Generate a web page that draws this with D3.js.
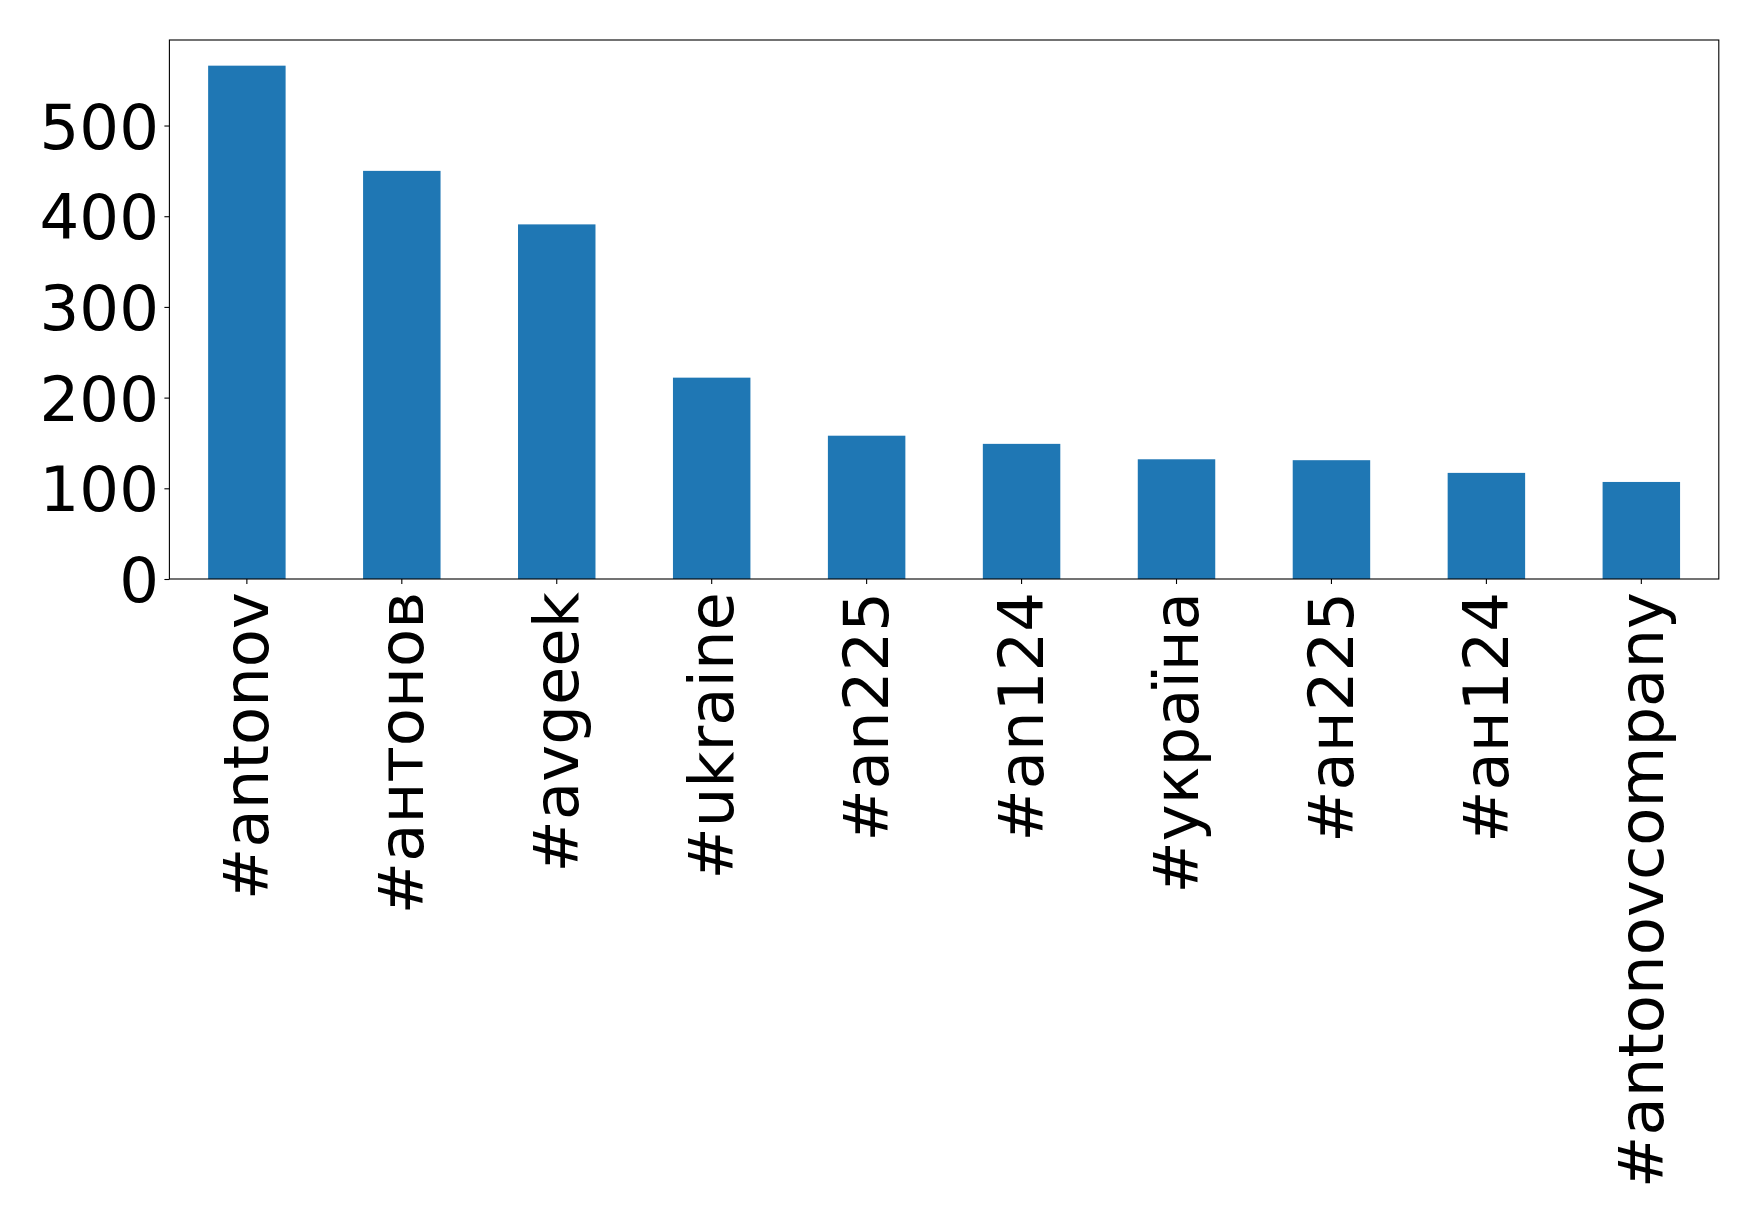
<!DOCTYPE html>
<html>
<head>
<meta charset="utf-8">
<script src="https://cdn.jsdelivr.net/npm/d3@7"></script>
<style>
  html, body { margin: 0; padding: 0; background: #fff; }
  svg { display: block; }
  text { font-family: "DejaVu Sans", sans-serif; fill: #000; }
</style>
</head>
<body>
<svg id="chart" width="1759" height="1224"></svg>
<script>
const categories = ["#antonov", "#антонов", "#avgeek", "#ukraine", "#an225", "#an124", "#україна", "#ан225", "#ан124", "#antonovcompany"];
const counts = [566, 450, 391, 222, 158, 149, 132, 131, 117, 107];
const yTicks = [0, 100, 200, 300, 400, 500];

const W = 1759, H = 1224;
const m = { left: 169.4, right: 1718.8, top: 40, bottom: 579 };
const FS = 62.5;
const svg = d3.select("#chart");

const x = d3.scaleBand().domain(categories).range([m.left, m.right]).paddingInner(0.5).paddingOuter(0.25);
const y = d3.scaleLinear().domain([0, d3.max(counts) * 1.05]).range([m.bottom, m.top]);

svg.append("g").selectAll("rect").data(categories).join("rect")
  .attr("x", d => x(d))
  .attr("width", x.bandwidth())
  .attr("y", (d, i) => y(counts[i]))
  .attr("height", (d, i) => y(0) - y(counts[i]))
  .attr("fill", "#1f77b4");

// frame
svg.append("rect")
  .attr("x", m.left).attr("y", m.top)
  .attr("width", m.right - m.left).attr("height", m.bottom - m.top)
  .attr("fill", "none").attr("stroke", "#000").attr("stroke-width", 1.1);

// y axis
const yAxis = d3.axisLeft(y).tickValues(yTicks).tickSize(5).tickPadding(5.5).tickFormat(d3.format("d"));
const gy = svg.append("g").attr("transform", `translate(${m.left},0)`).call(yAxis);
gy.select(".domain").remove();
gy.selectAll(".tick line").attr("stroke", "#000").attr("stroke-width", 1.1);
gy.selectAll(".tick text")
  .attr("font-family", "DejaVu Sans")
  .attr("font-size", FS)
  .attr("dy", "0.36em")
  .attr("fill", "#000");

// x axis
const xAxis = d3.axisBottom(x).tickSize(5).tickPadding(0);
const gx = svg.append("g").attr("transform", `translate(0,${m.bottom})`).call(xAxis);
gx.select(".domain").remove();
gx.selectAll(".tick line").attr("stroke", "#000").attr("stroke-width", 1.1);
gx.selectAll(".tick text")
  .attr("font-family", "DejaVu Sans")
  .attr("font-size", FS)
  .attr("fill", "#000")
  .attr("text-anchor", "end")
  .attr("transform", "rotate(-90)")
  .attr("x", -13)
  .attr("y", 0)
  .attr("dy", "0.345em");
</script>
</body>
</html>
